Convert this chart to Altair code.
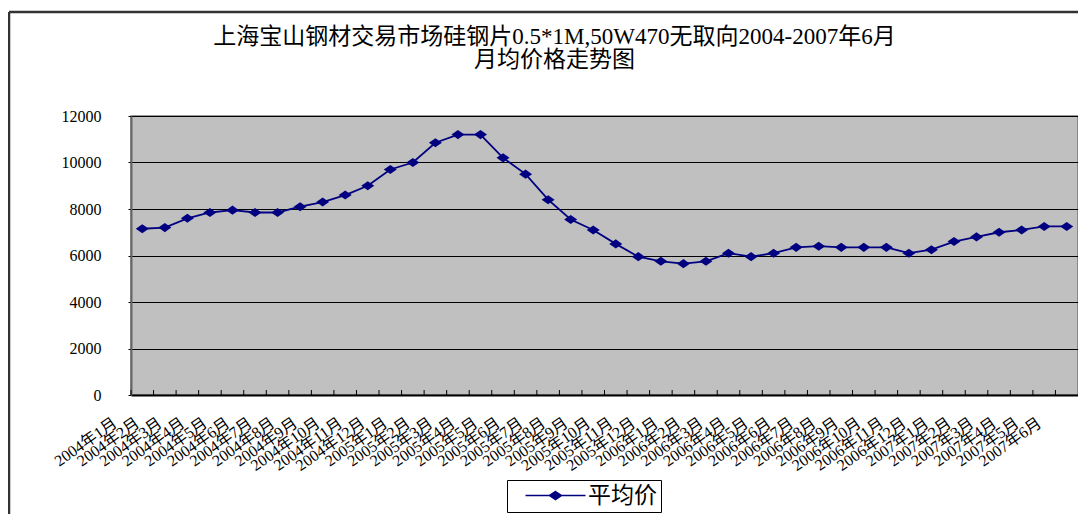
import altair as alt
import pandas as pd

title_lines = ["上海宝山钢材交易市场硅钢片0.5*1M,50W470无取向2004-2007年6月", "月均价格走势图"]
series_name = "平均价"
months = [
    "2004年1月", "2004年2月", "2004年3月", "2004年4月", "2004年5月", "2004年6月",
    "2004年7月", "2004年8月", "2004年9月", "2004年10月", "2004年11月", "2004年12月",
    "2005年1月", "2005年2月", "2005年3月", "2005年4月", "2005年5月", "2005年6月",
    "2005年7月", "2005年8月", "2005年9月", "2005年10月", "2005年11月", "2005年12月",
    "2006年1月", "2006年2月", "2006年3月", "2006年4月", "2006年5月", "2006年6月",
    "2006年7月", "2006年8月", "2006年9月", "2006年10月", "2006年11月", "2006年12月",
    "2007年1月", "2007年2月", "2007年3月", "2007年4月", "2007年5月", "2007年6月",
]
prices = [
    7150, 7200, 7600, 7850, 7950, 7850, 7850, 8100, 8300, 8600, 9000, 9700,
    10000, 10850, 11200, 11200, 10200, 9500, 8400, 7550, 7100, 6500, 5950, 5750,
    5650, 5750, 6100, 5950, 6100, 6350, 6400, 6350, 6350, 6350, 6100, 6250,
    6600, 6800, 7000, 7100, 7250, 7250,
]
y_ticks = [0, 2000, 4000, 6000, 8000, 10000, 12000]

df = pd.DataFrame({"月份": months, "价格": prices, "系列": [series_name] * len(months)})

W, H = 947, 279
NAVY = "#000080"
SERIF = "Liberation Serif, Noto Sans CJK SC"
DIAMOND = "M0,-0.7L1,0L0,0.7L-1,0Z"
LEG_SYMBOL = "M-7.5,0L7.5,0M0,-1L1.5,0L0,1L-1.5,0Z"

x_scale = alt.Scale(type="band", paddingInner=0, paddingOuter=0)
x_enc = alt.X(
    "月份:N", sort=months, scale=x_scale,
    axis=alt.Axis(
        title=None, labelAngle=-35, labelAlign="right", labelBaseline="middle",
        labelOffset=-27, labelPadding=26, ticks=False, labelOverlap=False,
        labelFont=SERIF, labelFontSize=16, labelColor="black",
        domainColor="black", domainWidth=2, grid=False, labelBound=False,
    ),
)
y_enc = alt.Y(
    "价格:Q", scale=alt.Scale(domain=[0, 12000], nice=False),
    axis=alt.Axis(
        title=None, values=y_ticks, format="d", grid=True, gridColor="black", gridWidth=1,
        tickSize=3, tickColor="black", labelPadding=27, labelFont=SERIF,
        labelFontSize=16, labelColor="black", domainColor="#666666", domainWidth=2,
    ),
)

base = alt.Chart(df)

line = base.mark_line(color=NAVY, strokeWidth=1.8).encode(x=x_enc, y=y_enc)

points = base.mark_point(shape=DIAMOND, filled=True, size=169, opacity=1).encode(
    x=x_enc, y=y_enc,
    color=alt.Color(
        "系列:N", scale=alt.Scale(range=[NAVY]),
        legend=alt.Legend(
            title=None, orient="none", legendX=376, legendY=364,
            strokeColor="black", fillColor="white", padding=4,
            symbolType=LEG_SYMBOL, symbolSize=64, symbolOffset=33,
            symbolFillColor=NAVY, symbolStrokeColor=NAVY, symbolStrokeWidth=1.5,
            labelOffset=21, labelFont=SERIF, labelFontSize=23, labelColor="black",
            labelLimit=300,
        ),
    ),
)

inner_ticks = base.mark_rule(color="black", strokeWidth=1).encode(
    x=alt.X("月份:N", sort=months, scale=x_scale, bandPosition=0),
    y=alt.value(H),
    y2=alt.value(H - 5),
)

frame = alt.Chart(pd.DataFrame({"k": [0]}))
left_border = frame.mark_rule(color="#333333", strokeWidth=2.5).encode(
    x=alt.value(-122), y=alt.value(-104), y2=alt.value(420)
)
top_border = frame.mark_rule(color="#333333", strokeWidth=2.5).encode(
    y=alt.value(-104), x=alt.value(-122), x2=alt.value(980)
)

chart = alt.layer(inner_ticks, line, points, left_border, top_border).properties(
    width=W, height=H,
    autosize=alt.AutoSizeParams(type="none"),
    padding={"left": 123, "top": 108, "right": 0, "bottom": 119},
    title=alt.Title(
        text=title_lines, fontSize=23, lineHeight=23, font=SERIF, fontWeight="normal",
        color="black", anchor="middle", dx=-50, offset=-61,
    ),
).configure_view(fill="#C0C0C0", stroke="#777777", strokeWidth=1.5)

chart.save("out.html", embed_options={"renderer": "svg", "actions": False})
